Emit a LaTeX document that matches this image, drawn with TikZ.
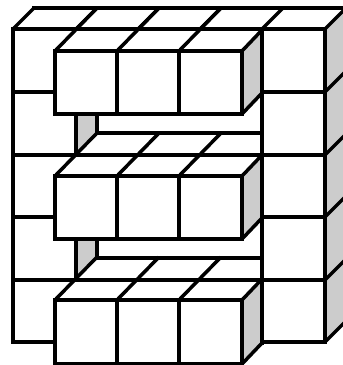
\documentclass[tikz,border=0pt]{standalone}
\begin{document}
\begin{tikzpicture}[x=1pt,y=-1pt,line width=3.5pt,
  edge/.style={draw=black,line cap=rect,line join=miter},
  diag/.style={draw=black,line cap=butt}]
\useasboundingbox (0,0) rectangle (343,365);
\clip (0,0) rectangle (343,365);
\fill[white] (0,0) rectangle (343,365);
% right side of the wall
\fill[gray!40!white] (325,29) -- (346,8) -- (346,321) -- (325,342) -- cycle;
% wall front and top
\draw[edge] (34,8) -- (346,8);
\draw[edge] (13,29) -- (325,29);
\draw[edge] (13,29) -- (13,342) -- (55,342);
\draw[edge] (262,342) -- (325,342);
\draw[edge] (325,29) -- (325,342);
\draw[edge] (262,29) -- (262,342);
\draw[diag] (13,29) -- (34,8);
\foreach \y in {92,217}{
  \draw[edge] (13,\y) -- (55,\y);
  \draw[edge] (262,\y) -- (325,\y);
}
\foreach \y in {155,280}{
  \draw[edge] (13,\y) -- (325,\y);
}
\foreach \y in {29,92,155,217,280,342}{
  \draw[diag] (325,\y) -- (346,\y-21);
}
\draw[diag] (262,29) -- (283,8);
\draw[diag] (200,29) -- (221,8);
\draw[diag] (138,29) -- (159,8);
\draw[diag] (76,29) -- (97,8);
% recessed gaps, gray inner faces and floors
\foreach \t/\b/\f in {114/133/155,239/258/280}{
  \fill[gray!40!white] (76,\t) -- (97,\t) -- (97,\b) -- (76,\f) -- cycle;
  \draw[edge] (76,\t) -- (76,\f);
  \draw[edge] (97,\t) -- (97,\b) -- (262,\b);
}
% three blocks
\foreach \t/\b in {51/114,176/239,300/364}{
  \fill[white] (55,\t) rectangle (242,\b);
  \fill[gray!40!white] (242,\t) -- (262,\t-21) -- (262,\b-21) -- (242,\b) -- cycle;
  \draw[edge] (55,\t) rectangle (242,\b);
  \draw[edge] (117,\t) -- (117,\b);
  \draw[edge] (179,\t) -- (179,\b);
  \draw[diag] (242,\b) -- (262,\b-21);
  \draw[edge] (262,\t-21) -- (262,\b-21);
  \draw[diag] (55,\t) -- (97,\t-43);
  \draw[diag] (117,\t) -- (159,\t-43);
  \draw[diag] (179,\t) -- (221,\t-43);
  \draw[diag] (242,\t) -- (262,\t-21);
}
\end{tikzpicture}
\end{document}
